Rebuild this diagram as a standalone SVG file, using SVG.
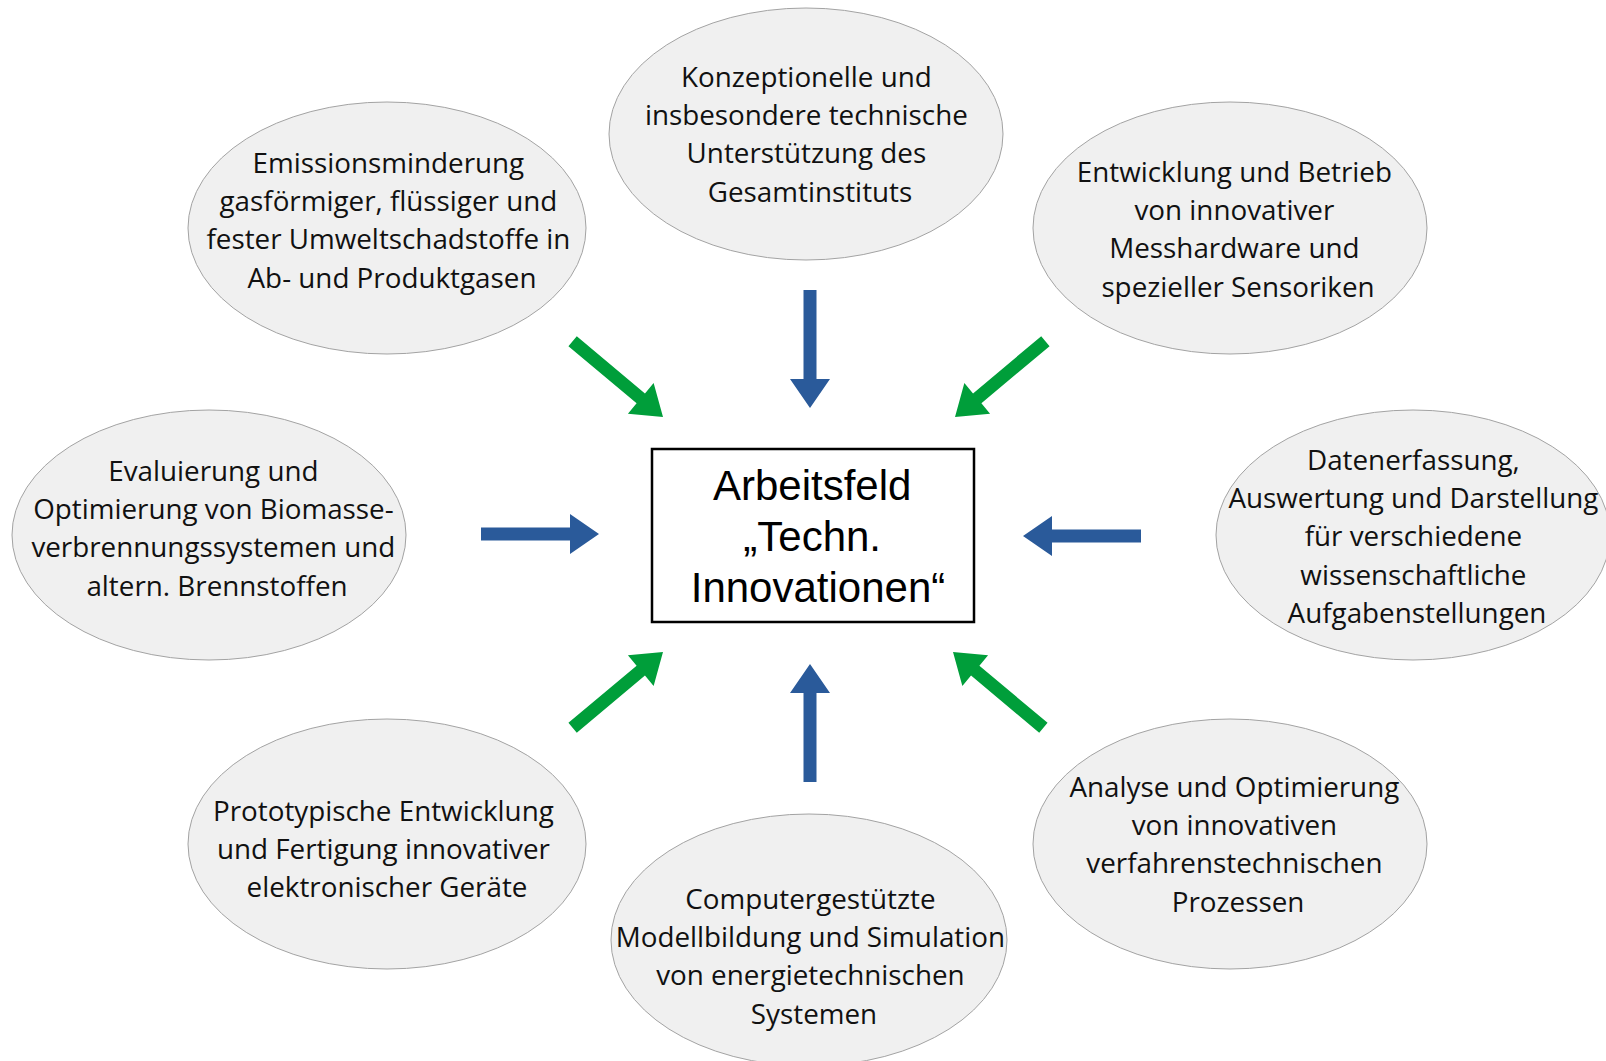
<svg xmlns="http://www.w3.org/2000/svg" xmlns:xlink="http://www.w3.org/1999/xlink" width="1606" height="1061" viewBox="0 0 1606 1061">
  <style>
    .topic ellipse { fill: #f0f0f0; stroke: #a3a3a3; stroke-width: 1; }
    .topic text { font-family: "Open Sans", "Noto Sans", sans-serif; font-size: 27.8px; fill: #111111; text-anchor: middle; }
    .core rect { fill: #ffffff; stroke: #000000; stroke-width: 2.5; }
    .core text { font-family: "Liberation Sans", Arial, sans-serif; font-size: 42px; fill: #000000; text-anchor: middle; }
    .blue { fill: #2a5a9a; }
    .green { fill: #009e3a; }
  </style>
  <defs>
    <!-- block arrow, tip at the origin, pointing along +x -->
    <path id="arrow" d="M0,0 L-29,-20 L-29,-6.5 L-118,-6.5 L-118,6.5 L-29,6.5 L-29,20 Z"/>
  </defs>

  <rect x="0" y="0" width="1606" height="1061" fill="#ffffff"/>

  <!-- arrows pointing to the centre box -->
  <g id="connectors">
    <use xlink:href="#arrow" class="blue" transform="translate(810,408) rotate(90)"/>
    <use xlink:href="#arrow" class="blue" transform="translate(810,664) rotate(-90)"/>
    <use xlink:href="#arrow" class="blue" transform="translate(599,534)"/>
    <use xlink:href="#arrow" class="blue" transform="translate(1023,536) rotate(180)"/>
    <use xlink:href="#arrow" class="green" transform="translate(663,417) rotate(40)"/>
    <use xlink:href="#arrow" class="green" transform="translate(955,417) rotate(140)"/>
    <use xlink:href="#arrow" class="green" transform="translate(663,652) rotate(-40)"/>
    <use xlink:href="#arrow" class="green" transform="translate(953,652) rotate(-140)"/>
  </g>

  <g id="center" class="core">
    <rect x="652" y="449" width="322" height="173"/>
    <text>
      <tspan x="818" y="500">Arbeitsfeld</tspan>
      <tspan x="818" y="551">„Techn.</tspan>
      <tspan x="818" y="602">Innovationen“</tspan>
    </text>
  </g>

  <g id="node-top" class="topic">
    <ellipse cx="806" cy="134" rx="197" ry="126"/>
    <text>
      <tspan x="810" y="87">Konzeptionelle und</tspan>
      <tspan x="810" y="125.2">insbesondere technische</tspan>
      <tspan x="810" y="163.4">Unterstützung des</tspan>
      <tspan x="810" y="201.6">Gesamtinstituts</tspan>
    </text>
  </g>

  <g id="node-top-left" class="topic">
    <ellipse cx="387" cy="228" rx="199" ry="126"/>
    <text>
      <tspan x="392" y="173">Emissionsminderung</tspan>
      <tspan x="392" y="211.2">gasförmiger, flüssiger und</tspan>
      <tspan x="392" y="249.4">fester Umweltschadstoffe in</tspan>
      <tspan x="392" y="287.6">Ab- und Produktgasen</tspan>
    </text>
  </g>

  <g id="node-top-right" class="topic">
    <ellipse cx="1230" cy="228" rx="197" ry="126"/>
    <text>
      <tspan x="1238" y="182">Entwicklung und Betrieb</tspan>
      <tspan x="1238" y="220.2">von innovativer</tspan>
      <tspan x="1238" y="258.4">Messhardware und</tspan>
      <tspan x="1238" y="296.6">spezieller Sensoriken</tspan>
    </text>
  </g>

  <g id="node-left" class="topic">
    <ellipse cx="209" cy="535" rx="197" ry="125"/>
    <text>
      <tspan x="217" y="481">Evaluierung und</tspan>
      <tspan x="217" y="519.2">Optimierung von Biomasse-</tspan>
      <tspan x="217" y="557.4">verbrennungssystemen und</tspan>
      <tspan x="217" y="595.6">altern. Brennstoffen</tspan>
    </text>
  </g>

  <g id="node-right" class="topic">
    <ellipse cx="1413" cy="535" rx="197" ry="125"/>
    <text>
      <tspan x="1417" y="470">Datenerfassung,</tspan>
      <tspan x="1417" y="508.2">Auswertung und Darstellung</tspan>
      <tspan x="1417" y="546.4">für verschiedene</tspan>
      <tspan x="1417" y="584.6">wissenschaftliche</tspan>
      <tspan x="1417" y="622.8">Aufgabenstellungen</tspan>
    </text>
  </g>

  <g id="node-bottom-left" class="topic">
    <ellipse cx="387" cy="844" rx="199" ry="125"/>
    <text>
      <tspan x="387" y="821">Prototypische Entwicklung</tspan>
      <tspan x="387" y="859.2">und Fertigung innovativer</tspan>
      <tspan x="387" y="897.4">elektronischer Geräte</tspan>
    </text>
  </g>

  <g id="node-bottom-right" class="topic">
    <ellipse cx="1230" cy="844" rx="197" ry="125"/>
    <text>
      <tspan x="1238" y="797">Analyse und Optimierung</tspan>
      <tspan x="1238" y="835.2">von innovativen</tspan>
      <tspan x="1238" y="873.4">verfahrenstechnischen</tspan>
      <tspan x="1238" y="911.6">Prozessen</tspan>
    </text>
  </g>

  <g id="node-bottom" class="topic">
    <ellipse cx="809" cy="940" rx="198" ry="126"/>
    <text>
      <tspan x="814" y="909">Computergestützte</tspan>
      <tspan x="814" y="947.2">Modellbildung und Simulation</tspan>
      <tspan x="814" y="985.4">von energietechnischen</tspan>
      <tspan x="814" y="1023.6">Systemen</tspan>
    </text>
  </g>
</svg>
